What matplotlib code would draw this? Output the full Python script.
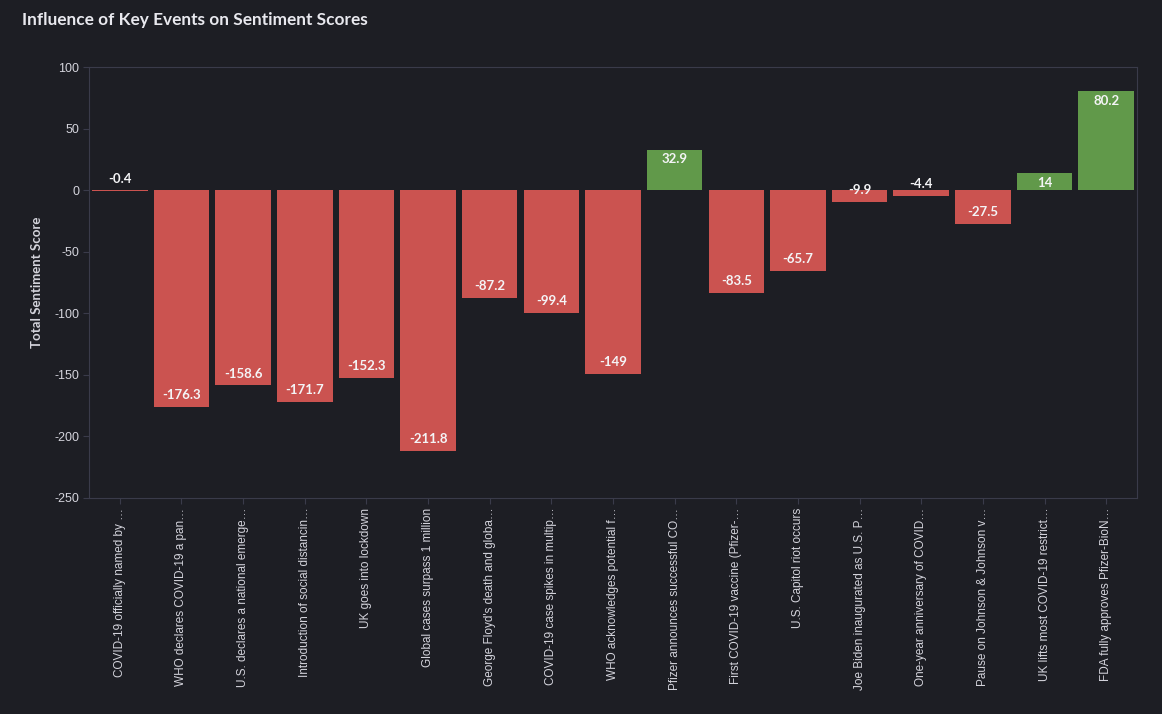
import matplotlib
matplotlib.use("Agg")
import matplotlib.pyplot as plt
import numpy as np

events = [
    "COVID-19 officially named by …",
    "WHO declares COVID-19 a pan…",
    "U.S. declares a national emerge…",
    "Introduction of social distancin…",
    "UK goes into lockdown",
    "Global cases surpass 1 million",
    "George Floyd's death and globa…",
    "COVID-19 case spikes in multip…",
    "WHO acknowledges potential f…",
    "Pfizer announces successful CO…",
    "First COVID-19 vaccine (Pfizer-…",
    "U.S. Capitol riot occurs",
    "Joe Biden inaugurated as U.S. P…",
    "One-year anniversary of COVID…",
    "Pause on Johnson & Johnson v…",
    "UK lifts most COVID-19 restrict…",
    "FDA fully approves Pfizer-BioN…",
]
scores = [-0.4, -176.3, -158.6, -171.7, -152.3, -211.8, -87.2, -99.4, -149,
          32.9, -83.5, -65.7, -9.9, -4.4, -27.5, 14, 80.2]
y_ticks = [-250, -200, -150, -100, -50, 0, 50, 100]

BG = "#1d1e24"
RED = "#cb5350"
GREEN = "#61994a"
FRAME = "#3a3b4a"
TXT = "#d4d4dc"

fig = plt.figure(figsize=(11.62, 7.14), dpi=100, facecolor=BG)
ax = fig.add_axes([89/1162, 1-498/714, (1137-89)/1162, (498-67)/714])
ax.set_facecolor(BG)

x = np.arange(len(scores))
colors = [GREEN if v > 0 else RED for v in scores]
ax.bar(x, scores, width=0.9, color=colors, zorder=2)

ax.set_xlim(-0.5, len(scores) - 0.5)
ax.set_ylim(-250, 100)
ax.set_yticks(y_ticks)
ax.set_yticklabels([str(t) for t in y_ticks], fontsize=9, color=TXT, family="Liberation Sans")
ax.set_xticks(x)
ax.set_xticklabels(events, rotation=90, ha="center", va="top", fontsize=8.5,
                   color=TXT, family="Liberation Sans")
ax.tick_params(axis="both", colors=FRAME, length=4, width=0.8, pad=3)
for lab in ax.get_xticklabels() + ax.get_yticklabels():
    lab.set_color(TXT)

for s in ax.spines.values():
    s.set_color(FRAME)
    s.set_linewidth(0.8)

for xi, v in zip(x, scores):
    label = f"{v:g}"
    off = 8.6 if v < 0 else -7.0
    ax.annotate(label, (xi, v), xytext=(0, off), textcoords="offset points",
                ha="center", va="center", fontsize=9.5, color="#f4f4f6",
                fontweight="bold", family="Lato", zorder=3)

ax.set_ylabel("Total Sentiment Score", fontsize=9.5, fontweight="bold",
              color=TXT, family="Lato", labelpad=8)

fig.text(22/1162, 1-20/714, "Influence of Key Events on Sentiment Scores",
         fontsize=12.4, fontweight="bold", color="#e8e8ee", family="Lato",
         ha="left", va="center")

fig.savefig("out.png", dpi=100, facecolor=BG)
